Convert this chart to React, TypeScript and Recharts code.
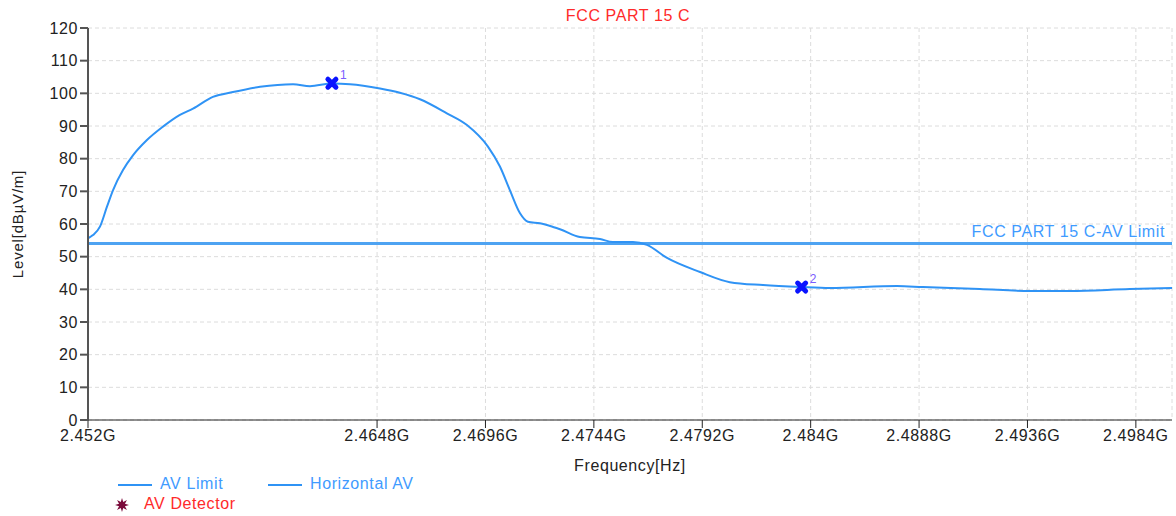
import React from "react"
import { ComposedChart, Line, Scatter, XAxis, YAxis, CartesianGrid, ReferenceLine } from "recharts"

// measured trace, frequency in GHz, level in dBµV/m
const freqGHz = [
  2.452, 2.45222, 2.45253, 2.45284, 2.45311, 2.45355, 2.45399, 2.45461, 2.45532, 2.45607,
  2.45665, 2.45753, 2.45842, 2.45962, 2.46108, 2.46183, 2.4628, 2.4636, 2.46493, 2.46581,
  2.4667, 2.46789, 2.46878, 2.46971, 2.47024, 2.47068, 2.47113, 2.47148, 2.47201, 2.47259,
  2.4729, 2.47378, 2.47467, 2.47524, 2.47613, 2.47675, 2.47764, 2.4791, 2.48042, 2.48189,
  2.48357, 2.48485, 2.48782, 2.48897, 2.49149, 2.49371, 2.49548, 2.49813, 2.5,
]
const levelDb = [
  55.6, 56.6, 59.2, 65.3, 70.4, 76.5, 81, 85.7, 89.8, 93.4,
  95.3, 98.9, 100.4, 102, 102.8, 102.2, 103, 102.8, 101.5, 100.2,
  98.2, 93.9, 90.3, 83.7, 77.6, 70.4, 63.3, 60.7, 60.2, 59.1,
  58.4, 56, 55.4, 54.5, 54.5, 53.6, 49.6, 45.3, 42.2, 41.3,
  40.7, 40.4, 41, 40.7, 40.1, 39.5, 39.5, 40.1, 40.4,
]

const markerFreq = [2.4628, 2.4836]
const markerLevel = [103.1, 40.7]
const markerNo = ["1", "2"]

const avLimit = 54

const xTicks = [2.452, 2.4648, 2.4696, 2.4744, 2.4792, 2.484, 2.4888, 2.4936, 2.4984]
const yTicks = [0, 10, 20, 30, 40, 50, 60, 70, 80, 90, 100, 110, 120]

const trace = freqGHz.map((f, i) => ({ f, level: levelDb[i] }))
const markers = markerFreq.map((f, i) => ({ f, level: markerLevel[i], no: markerNo[i] }))

const TRACE = "#2f93f5"
const LIMIT = "#4ea3f2"
const TEXT_BLUE = "#3f9bff"
const FONT = { fontSize: 16, letterSpacing: 0.6 }

const MarkerShape = (props: any) => {
  const { cx, cy, payload } = props
  const s = 4
  return (
    <g>
      <path
        d={`M${cx - s},${cy - s}L${cx + s},${cy + s}M${cx - s},${cy + s}L${cx + s},${cy - s}`}
        stroke="#0a14ff"
        strokeWidth={5}
        strokeLinecap="round"
      />
      <text x={cx + 8} y={cy - 4} fontSize={12} fill="#7a5cff">{payload.no}</text>
    </g>
  )
}

const star = () => {
  const pts: string[] = []
  for (let i = 0; i < 16; i++) {
    const r = i % 2 === 0 ? 7 : 3.2
    const a = (Math.PI / 8) * i
    pts.push(`${7 + r * Math.cos(a)},${7 + r * Math.sin(a)}`)
  }
  return pts.join(" ")
}

const ChartLegend = () => (
  <div style={{ position: "absolute", left: 0, top: 474, width: 440, height: 44, ...FONT }}>
    <div style={{ position: "absolute", left: 118, top: 10, width: 34, height: 2, background: TRACE }} />
    <span style={{ position: "absolute", left: 160, top: 1, color: TEXT_BLUE }}>AV Limit</span>
    <div style={{ position: "absolute", left: 268, top: 10, width: 34, height: 2, background: TRACE }} />
    <span style={{ position: "absolute", left: 310, top: 1, color: TEXT_BLUE }}>Horizontal AV</span>
    <svg style={{ position: "absolute", left: 115, top: 24 }} width={14} height={14}>
      <polygon points={star()} fill="#7a0a3a" />
    </svg>
    <span style={{ position: "absolute", left: 144, top: 21, color: "#ff2a2a" }}>AV Detector</span>
  </div>
)

export default function App() {
  return (
    <div style={{ position: "absolute", left: 0, top: 0, width: 1176, height: 516, background: "#fff", fontFamily: "'Liberation Sans', Arial, sans-serif" }}>
      <div style={{ position: "absolute", left: 0, top: 7, width: 1256, textAlign: "center", color: "#ff2a2a", ...FONT }}>
        FCC PART 15 C
      </div>
      <ComposedChart width={1176} height={516} data={trace} margin={{ top: 28, right: 4, left: 28, bottom: 66 }}>
        <CartesianGrid strokeDasharray="4 3" stroke="#dcdcdc" />
        <XAxis
          type="number"
          dataKey="f"
          domain={[2.452, 2.5]}
          ticks={xTicks}
          tickFormatter={(v) => `${v}G`}
          interval={0}
          tick={{ fill: "#222", ...FONT }}
          tickSize={8}
          stroke="#222"
          height={30}
          label={{ value: "Frequency[Hz]", position: "bottom", offset: 10, fill: "#222", ...FONT }}
        />
        <YAxis
          type="number"
          domain={[0, 120]}
          ticks={yTicks}
          interval={0}
          tick={{ fill: "#222", ...FONT }}
          tickSize={8}
          stroke="#555"
          strokeWidth={2}
          width={60}
          label={{ value: "Level[dBµV/m]", angle: -90, position: "insideLeft", offset: -10, fill: "#222", fontSize: 15, letterSpacing: 0.8, style: { textAnchor: "middle" } }}
        />
        <ReferenceLine
          y={avLimit}
          stroke={LIMIT}
          strokeWidth={3}
          label={{ value: "FCC PART 15 C-AV Limit", position: "insideBottomRight", offset: 7, fill: TEXT_BLUE, ...FONT }}
        />
        <Line type="monotone" dataKey="level" stroke={TRACE} strokeWidth={2} dot={false} isAnimationActive={false} />
        <Scatter data={markers} dataKey="level" shape={<MarkerShape />} isAnimationActive={false} />
      </ComposedChart>
      <ChartLegend />
    </div>
  )
}
